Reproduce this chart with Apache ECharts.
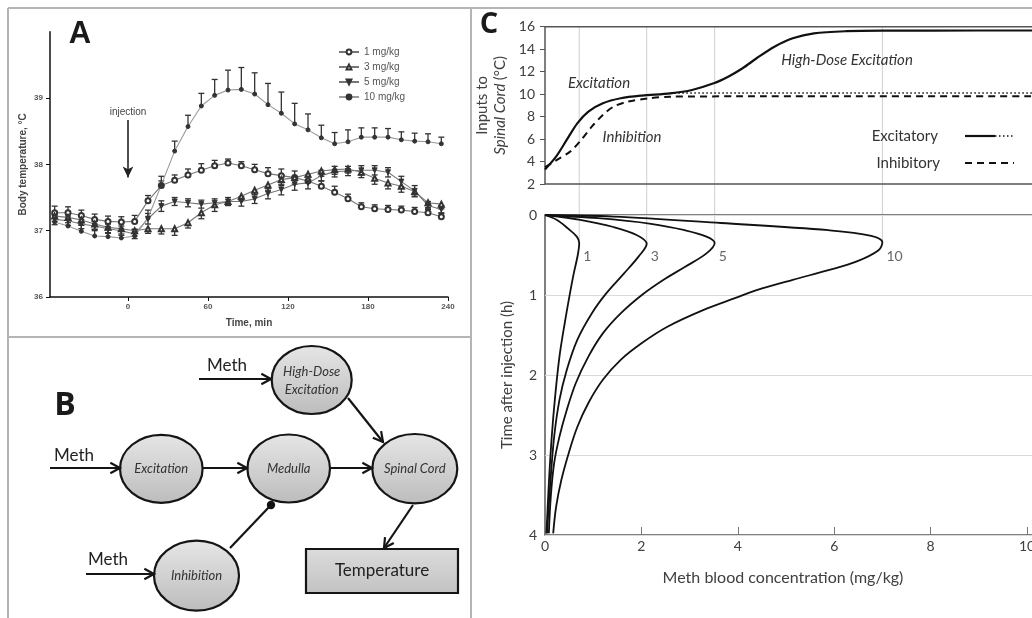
<!DOCTYPE html>
<html><head><meta charset="utf-8">
<script src="https://cdn.jsdelivr.net/npm/echarts@6/dist/echarts.min.js"></script>
<style>html,body{margin:0;padding:0;background:#fff}#c{width:1032px;height:618px}</style>
</head><body><div id="c"></div>
<script>
// ---------- Panel A data ----------
const timesMin = [-55,-45,-35,-25,-15,-5,5,15,25,35,45,55,65,75,85,95,105,115,125,135,145,155,165,175,185,195,205,215,225,235];
const doseNames = ['1 mg/kg','3 mg/kg','5 mg/kg','10 mg/kg'];
const temp1  = [37.27,37.27,37.23,37.17,37.14,37.13,37.14,37.45,37.68,37.76,37.84,37.91,37.98,38.02,37.98,37.92,37.86,37.83,37.80,37.75,37.67,37.58,37.48,37.36,37.33,37.32,37.31,37.29,37.27,37.21];
const temp3  = [37.22,37.20,37.16,37.10,37.05,37.03,37.00,37.03,37.03,37.03,37.12,37.27,37.39,37.44,37.52,37.61,37.69,37.77,37.80,37.85,37.90,37.92,37.93,37.88,37.79,37.72,37.67,37.59,37.42,37.40];
const temp5  = [37.17,37.15,37.10,37.07,37.03,37.00,36.95,37.18,37.37,37.44,37.42,37.40,37.42,37.44,37.44,37.48,37.56,37.62,37.70,37.72,37.83,37.89,37.90,37.91,37.91,37.88,37.74,37.60,37.38,37.32];
const temp10 = [37.13,37.07,36.99,36.92,36.91,36.89,36.92,37.19,37.69,38.20,38.57,38.88,39.04,39.12,39.13,39.06,38.90,38.77,38.61,38.52,38.40,38.31,38.34,38.41,38.41,38.41,38.37,38.35,38.34,38.31];
const sem1  = [0.10,0.09,0.08,0.08,0.08,0.08,0.09,0.08,0.07,0.08,0.09,0.10,0.08,0.06,0.06,0.08,0.09,0.10,0.10,0.09,0.08,0.09,0.07,0.06,0.06,0.06,0.06,0.06,0.06,0.06];
const sem3  = [0.08,0.08,0.08,0.08,0.08,0.08,0.08,0.07,0.08,0.10,0.08,0.09,0.10,0.06,0.06,0.07,0.08,0.09,0.10,0.09,0.08,0.07,0.06,0.08,0.09,0.09,0.09,0.08,0.07,0.07];
const sem5  = [0.08,0.07,0.07,0.07,0.07,0.07,0.07,0.08,0.08,0.06,0.06,0.06,0.06,0.06,0.07,0.07,0.08,0.08,0.09,0.09,0.08,0.08,0.07,0.07,0.07,0.07,0.08,0.08,0.06,0.06];
const sem10 = [0.10,0.10,0.10,0.10,0.10,0.10,0.10,0.12,0.13,0.15,0.17,0.19,0.24,0.30,0.33,0.32,0.32,0.32,0.31,0.24,0.19,0.17,0.18,0.14,0.14,0.13,0.12,0.12,0.12,0.10];
const tempTicks = [36,37,38,39];
const timeTicks = [0,60,120,180,240];

// ---------- Panel C top data: [concentration, input °C] ----------
const excitatoryTotal = [[0,3.3],[0.23,4.44],[0.45,5.92],[0.67,7.4],[0.9,8.44],[1.2,9.18],[1.57,9.63],[2.01,9.87],[2.6,10.07],[3.05,10.37],[3.5,10.96],[3.8,11.55],[4.1,12.3],[4.39,13.19],[4.76,14.22],[5.14,14.97],[5.58,15.41],[6.25,15.6],[7.0,15.65],[9.0,15.66],[12,15.66]];
const excitatoryLow  = [[2.6,10.1],[12,10.1]];
const inhibitory     = [[0,3.5],[0.23,4.1],[0.52,4.88],[0.75,5.92],[0.97,7.1],[1.2,8.14],[1.42,8.88],[1.72,9.33],[2.16,9.63],[2.6,9.77],[4,9.8],[12,9.8]];

// ---------- Panel C bottom data: [concentration, time h] ----------
const doseTags = ['1','3','5','10'];
const conc1  = [[0,0],[0.24,0.06],[0.48,0.17],[0.66,0.27],[0.71,0.35],[0.68,0.5],[0.6,0.72],[0.53,0.94],[0.41,1.35],[0.3,1.77],[0.21,2.27],[0.14,2.77],[0.08,3.35],[0.03,3.98]];
const conc3  = [[0,0],[0.73,0.06],[1.42,0.15],[1.9,0.25],[2.11,0.36],[1.94,0.52],[1.64,0.73],[1.27,0.98],[0.97,1.23],[0.67,1.56],[0.45,1.94],[0.3,2.31],[0.19,2.77],[0.12,3.27],[0.04,3.98]];
const conc5  = [[0,0],[1.1,0.04],[2.2,0.11],[2.9,0.19],[3.35,0.27],[3.52,0.35],[3.35,0.48],[2.9,0.65],[2.46,0.81],[2.01,1.0],[1.57,1.23],[1.2,1.48],[0.9,1.77],[0.64,2.1],[0.45,2.44],[0.3,2.77],[0.19,3.1],[0.12,3.52],[0.08,3.98]];
const conc10 = [[0,0],[1.42,0.02],[3.65,0.1],[5.88,0.19],[6.77,0.26],[7.0,0.34],[6.92,0.44],[6.47,0.58],[5.88,0.69],[5.14,0.81],[4.39,0.94],[3.94,1.04],[3.28,1.19],[2.53,1.4],[2.01,1.6],[1.57,1.81],[1.2,2.06],[0.9,2.35],[0.67,2.65],[0.49,2.98],[0.34,3.31],[0.23,3.65],[0.17,3.98]];
const peakConc = [0.71,2.11,3.52,7.0];
const peakTime = [0.35,0.36,0.35,0.34];
const tagTime = 0.52;

const chart = echarts.init(document.getElementById('c'));
const AF = '"Liberation Sans", Arial, sans-serif';
const CF = 'Lato, "Open Sans", sans-serif';

function errSeries(vals, errs, mode) {
  return {
    type: 'custom', xAxisIndex: 0, yAxisIndex: 0, z: 3, silent: true,
    encode: {x: 0, y: 1},
    data: timesMin.map((t, i) => [t, vals[i], errs[i]]),
    renderItem(params, api) {
      const x = api.value(0), y = api.value(1), e = api.value(2);
      const p = api.coord([x, y]), up = api.coord([x, y + e]), dn = api.coord([x, y - e]);
      const st = {stroke: '#333', lineWidth: 1.3};
      const top = mode === 'down' ? p[1] : up[1];
      const bot = mode === 'up' ? p[1] : dn[1];
      const ch = [{type: 'line', shape: {x1: p[0], y1: top, x2: p[0], y2: bot}, style: st}];
      if (mode !== 'down') ch.push({type: 'line', shape: {x1: p[0]-3, y1: up[1], x2: p[0]+3, y2: up[1]}, style: st});
      if (mode !== 'up') ch.push({type: 'line', shape: {x1: p[0]-3, y1: dn[1], x2: p[0]+3, y2: dn[1]}, style: st});
      return {type: 'group', children: ch};
    }
  };
}
function aLine(name, vals, symbol, size, lineColor, rotate) {
  return {
    type: 'line', name, xAxisIndex: 0, yAxisIndex: 0, z: 4,
    data: timesMin.map((t, i) => [t, vals[i]]),
    symbol, symbolSize: size, symbolRotate: rotate || 0, showAllSymbol: true,
    lineStyle: {color: lineColor, width: 1.1},
    itemStyle: {color: '#333', borderColor: '#333', borderWidth: 1}
  };
}
function cLine(data, xi, type, width, smooth) {
  return {
    type: 'line', xAxisIndex: xi, yAxisIndex: xi, data, symbol: 'none', smooth: smooth,
    lineStyle: {color: '#111', width, type}, silent: true, z: 5
  };
}

const option = {
  animation: false,
  backgroundColor: '#fff',
  legend: {
    data: doseNames, orient: 'vertical', left: 333, top: 42, itemWidth: 20, itemHeight: 6, itemGap: 5,
    textStyle: {fontFamily: AF, fontSize: 10, color: '#555'}, selectedMode: false
  },
  grid: [
    {left: 50, top: 31.7, width: 398, height: 265.3, outerBoundsMode: 'none'},
    {left: 545, top: 26.7, width: 578.4, height: 157.3, show: true, borderColor: '#555', borderWidth: 1.5, outerBoundsMode: 'none'},
    {left: 545, top: 215, width: 578.4, height: 320, show: true, borderColor: '#555', borderWidth: 1.5, outerBoundsMode: 'none'}
  ],
  xAxis: [
    {type: 'value', gridIndex: 0, min: -58.5, max: 240, name: 'Time, min', nameLocation: 'middle', nameGap: 21,
     nameTextStyle: {fontFamily: AF, fontSize: 10, fontWeight: 'bold', color: '#444'},
     axisLine: {onZero: false, lineStyle: {color: '#111', width: 1.5}},
     axisTick: {show: true, length: 4, customValues: timeTicks, lineStyle: {color: '#111'}},
     axisLabel: {customValues: timeTicks, fontFamily: AF, fontSize: 8, fontWeight: 'bold', color: '#555', margin: 6},
     splitLine: {show: false}},
    {type: 'value', gridIndex: 1, min: 0, max: 12, interval: 2, axisLine: {show: false}, axisTick: {show: false},
     axisLabel: {show: false}, splitLine: {show: false}},
    {type: 'value', gridIndex: 2, min: 0, max: 12, interval: 2, axisLine: {show: false, onZero: false},
     axisTick: {show: true, inside: true, length: 8, lineStyle: {color: '#777'}},
     axisLabel: {fontFamily: CF, fontSize: 14, color: '#404040', margin: 4}, splitLine: {show: false}}
  ],
  yAxis: [
    {type: 'value', gridIndex: 0, min: 36, max: 40, name: 'Body temperature, °C', nameLocation: 'middle', nameGap: 22,
     nameTextStyle: {fontFamily: AF, fontSize: 10, fontWeight: 'bold', color: '#444'},
     axisLine: {show: true, onZero: false, lineStyle: {color: '#111', width: 1.5}},
     axisTick: {show: true, length: 4, customValues: tempTicks, lineStyle: {color: '#111'}},
     axisLabel: {customValues: tempTicks, fontFamily: AF, fontSize: 8, fontWeight: 'bold', color: '#555', margin: 7},
     splitLine: {show: false}},
    {type: 'value', gridIndex: 1, min: 2, max: 16, interval: 2,
     name: '{a|Inputs to}\n{b|Spinal Cord} {a|(°C)}', nameLocation: 'middle', nameGap: 25,
     nameTextStyle: {rich: {a: {fontFamily: CF, fontSize: 15, color: '#404040', lineHeight: 18},
                            b: {fontFamily: CF, fontSize: 15, color: '#404040', fontStyle: 'italic', lineHeight: 18}}},
     axisLine: {show: false, onZero: false}, axisTick: {show: true, length: 5, lineStyle: {color: '#555'}},
     axisLabel: {fontFamily: CF, fontSize: 14, color: '#404040', margin: 10}, splitLine: {show: false}},
    {type: 'value', gridIndex: 2, min: 0, max: 4, interval: 1, inverse: true,
     name: 'Time after injection (h)', nameLocation: 'middle', nameGap: 30,
     nameTextStyle: {fontFamily: CF, fontSize: 15, color: '#404040'},
     axisLine: {show: false, onZero: false}, axisTick: {show: false},
     axisLabel: {fontFamily: CF, fontSize: 14, color: '#404040', margin: 8},
     splitLine: {show: true, lineStyle: {color: '#dadada', width: 1}}}
  ],
  series: [
    errSeries(temp1, sem1, 'up'),
    errSeries(temp3, sem3, 'down'),
    errSeries(temp5, sem5, 'both'),
    errSeries(temp10, sem10, 'up'),
    aLine(doseNames[0], temp1, 'emptyCircle', 5, '#777'),
    aLine(doseNames[1], temp3, 'emptyTriangle', 5, '#777'),
    aLine(doseNames[2], temp5, 'triangle', 5, '#777', 180),
    Object.assign(aLine(doseNames[3], temp10, 'circle', 4, '#9a9a9a'), {
      markLine: {
        silent: true, symbol: ['none', 'arrow'], symbolSize: [8, 11],
        lineStyle: {color: '#222', width: 1.6, type: 'solid'},
        label: {show: true, position: 'start', formatter: 'injection', fontFamily: AF, fontSize: 10, color: '#444', distance: 3},
        data: [[{coord: [0, 38.67]}, {coord: [0, 37.8]}]]
      }
    }),
    cLine(excitatoryTotal, 1, 'solid', 2.2, 0.3),
    cLine(excitatoryLow, 1, [1.5, 2.5], 1.4, false),
    cLine(inhibitory, 1, [7, 5], 2, 0.3),
    cLine(conc1, 2, 'solid', 1.8, 0.35),
    cLine(conc3, 2, 'solid', 1.8, 0.35),
    cLine(conc5, 2, 'solid', 1.8, 0.35),
    cLine(conc10, 2, 'solid', 1.8, 0.35),
    {type: 'scatter', xAxisIndex: 2, yAxisIndex: 2, symbolSize: 0, silent: true,
     data: peakConc.map((c, i) => ({value: [c, tagTime], tag: doseTags[i]})),
     label: {show: true, position: 'right', distance: 4, formatter: p => p.data.tag,
             fontFamily: CF, fontSize: 14, color: '#404040'}}
  ]
};
chart.setOption(option);

// ---------- graphics: frames, labels, panel B diagram, peak guide lines ----------
const G = [];
const FR = {stroke: '#b4b4b4', lineWidth: 2};
G.push({type: 'line', shape: {x1: 8, y1: 8, x2: 1032, y2: 8}, style: FR});
G.push({type: 'line', shape: {x1: 8, y1: 8, x2: 8, y2: 618}, style: FR});
G.push({type: 'line', shape: {x1: 8, y1: 337, x2: 471, y2: 337}, style: FR});
G.push({type: 'line', shape: {x1: 471, y1: 8, x2: 471, y2: 618}, style: FR});

function txt(x, y, t, font, fill, align) {
  return {type: 'text', x, y, z: 10, style: {text: t, font, fill: fill || '#333',
    textAlign: align || 'center', align: align || 'center', textVerticalAlign: 'middle', verticalAlign: 'middle'}};
}
G.push(txt(80, 34, 'A', 'bold 31px "Liberation Sans", Arial', '#1a1a1a'));
G.push(txt(65, 406, 'B', 'bold 32px "Open Sans", Lato', '#1a1a1a'));
G.push(txt(489, 25, 'C', 'bold 29px "Open Sans", Lato', '#1a1a1a'));

// peak guide lines (through both plots of panel C)
peakConc.forEach((c, i) => {
  const a = chart.convertToPixel({xAxisIndex: 1, yAxisIndex: 1}, [c, 16]);
  const b = chart.convertToPixel({xAxisIndex: 2, yAxisIndex: 2}, [c, peakTime[i]]);
  G.push({type: 'line', z: -1, shape: {x1: a[0], y1: a[1], x2: b[0], y2: b[1]}, style: {stroke: '#cfcfcf', lineWidth: 1}});
});

// panel C annotations
const IT = 'italic 15px Lato, "Open Sans"';
G.push(txt(599, 83, 'Excitation', IT, '#333'));
G.push(txt(632, 137, 'Inhibition', IT, '#333'));
G.push(txt(847, 60, 'High-Dose Excitation', IT, '#333'));
G.push(txt(938, 136, 'Excitatory', '15px Lato, "Open Sans"', '#333', 'right'));
G.push(txt(940, 163, 'Inhibitory', '15px Lato, "Open Sans"', '#333', 'right'));
G.push({type: 'line', shape: {x1: 965, y1: 136, x2: 995, y2: 136}, style: {stroke: '#111', lineWidth: 2.2}});
G.push({type: 'line', shape: {x1: 995, y1: 136, x2: 1014, y2: 136}, style: {stroke: '#111', lineWidth: 1.4, lineDash: [1.5, 2.5]}});
G.push({type: 'line', shape: {x1: 965, y1: 163, x2: 1014, y2: 163}, style: {stroke: '#111', lineWidth: 2, lineDash: [7, 5]}});
G.push(txt(783, 578, 'Meth blood concentration (mg/kg)', '16px Lato, "Open Sans"', '#404040'));

// panel B diagram
const grad = {type: 'linear', x: 0, y: 0, x2: 0, y2: 1, colorStops: [{offset: 0, color: '#e6e6e6'}, {offset: 1, color: '#bcbcbc'}]};
function ell(cx, cy, rx, ry) {
  return {type: 'ellipse', z: 5, shape: {cx, cy, rx, ry}, style: {fill: grad, stroke: '#151515', lineWidth: 2.2}};
}
G.push(ell(311.7, 380, 40, 34));
G.push(ell(161.3, 468.8, 41.3, 34));
G.push(ell(288.7, 468.5, 41.3, 34));
G.push(ell(414.8, 468.7, 42.5, 34.7));
G.push(ell(196.5, 575.7, 42.5, 35));
G.push({type: 'rect', z: 5, shape: {x: 306, y: 549, width: 152, height: 44},
        style: {fill: {type: 'linear', x: 0, y: 0, x2: 0, y2: 1, colorStops: [{offset: 0, color: '#dcdcdc'}, {offset: 1, color: '#c2c2c2'}]},
                stroke: '#151515', lineWidth: 2.2}});
const BI = 'italic 13px Lato, "Open Sans"';
G.push(txt(311.7, 372, 'High-Dose', BI, '#333'));
G.push(txt(311.7, 390, 'Excitation', BI, '#333'));
G.push(txt(161.3, 469, 'Excitation', BI, '#333'));
G.push(txt(288.7, 469, 'Medulla', BI, '#333'));
G.push(txt(414.8, 469, 'Spinal Cord', BI, '#333'));
G.push(txt(196.5, 576, 'Inhibition', BI, '#333'));
G.push(txt(382, 571, 'Temperature', '17px Lato, "Open Sans"', '#222'));
G.push(txt(227, 366, 'Meth', '17px Lato, "Open Sans"', '#222'));
G.push(txt(74, 456, 'Meth', '17px Lato, "Open Sans"', '#222'));
G.push(txt(108, 560, 'Meth', '17px Lato, "Open Sans"', '#222'));

function arrow(x1, y1, x2, y2) {
  const a = Math.atan2(y2 - y1, x2 - x1), L = 11, th = 0.5;
  const st = {stroke: '#151515', lineWidth: 2.2};
  G.push({type: 'line', z: 6, shape: {x1, y1, x2, y2}, style: st});
  G.push({type: 'polyline', z: 6, shape: {points: [
    [x2 - L * Math.cos(a - th), y2 - L * Math.sin(a - th)], [x2, y2],
    [x2 - L * Math.cos(a + th), y2 - L * Math.sin(a + th)]]}, style: Object.assign({fill: null}, st)});
}
arrow(199, 379, 271, 379);
arrow(50, 468, 120, 468);
arrow(86, 574, 154, 574);
arrow(203, 468, 247, 468);
arrow(330, 468, 372, 468);
arrow(348, 398, 383, 442);
arrow(413, 505, 384, 548);
G.push({type: 'line', z: 6, shape: {x1: 230, y1: 548, x2: 270, y2: 506}, style: {stroke: '#151515', lineWidth: 2.2}});
G.push({type: 'circle', z: 7, shape: {cx: 271, cy: 505, r: 4.2}, style: {fill: '#111'}});

chart.setOption({graphic: {elements: G}});
</script>
</body></html>
